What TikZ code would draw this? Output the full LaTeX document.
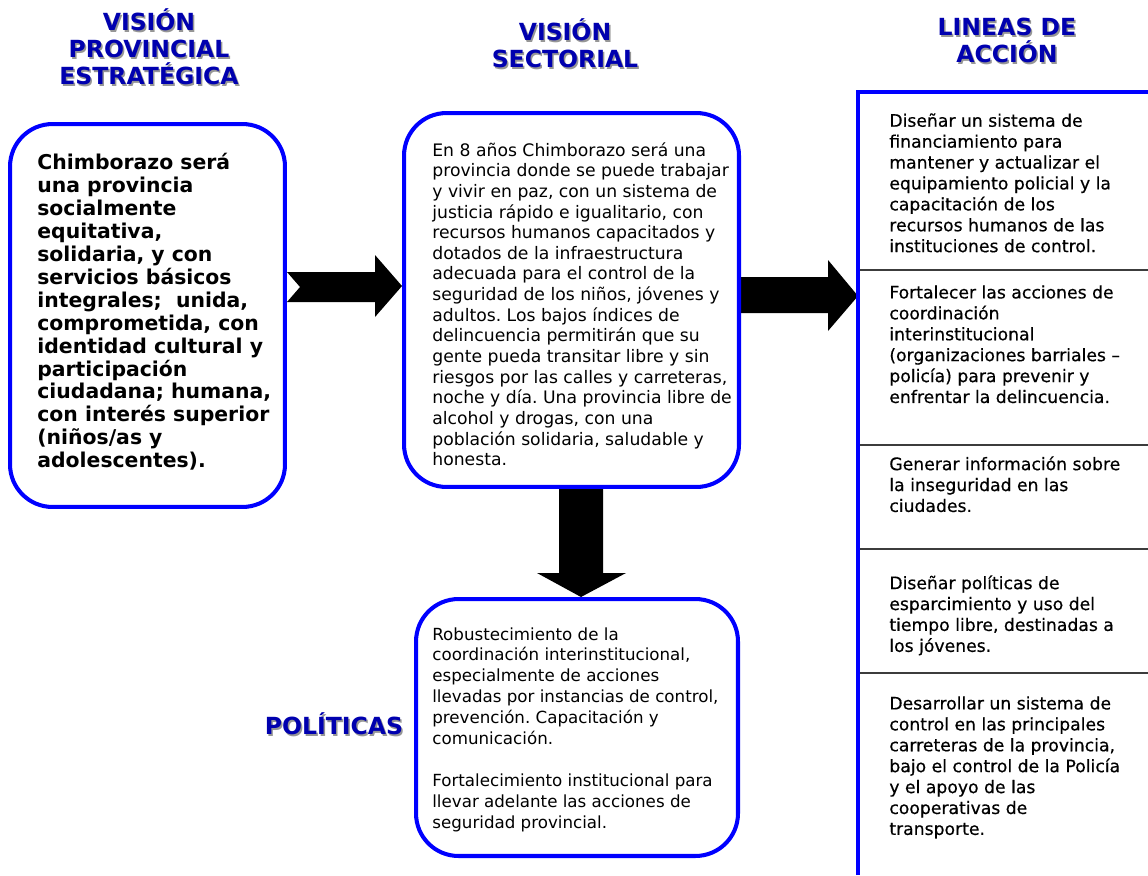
\documentclass[tikz,border=0pt]{standalone}
\usepackage{fontspec}
\setmainfont{DejaVu Sans}
\newfontfamily\medio{DejaVu Sans}[FakeBold=0.5]
\usetikzlibrary{backgrounds,calc}
\pgfdeclarelayer{edgelayer}
\pgfdeclarelayer{nodelayer}
\pgfsetlayers{edgelayer,nodelayer,main}
\definecolor{azul}{RGB}{0,0,255}
\definecolor{azultit}{RGB}{0,0,175}
\definecolor{sombra}{RGB}{150,150,150}
\definecolor{linea}{RGB}{60,60,60}
\frenchspacing
\tikzset{font=\fontsize{9.8}{11.75}\selectfont}
\tikzstyle{none}=[inner sep=0pt]
\tikzstyle{caja}=[draw=azul,line width=2.3pt,fill=white,rounded corners=0.85cm,inner sep=0pt]
\tikzstyle{texto}=[inner sep=0pt,align=left,anchor=north west]
\tikzstyle{derecha}=[texto,font=\fontsize{9.8}{11.9}\selectfont\medio]
\tikzstyle{titulo}=[inner sep=0pt,align=center,text=azultit,font=\fontsize{13.4}{15.3}\selectfont\bfseries]
\tikzstyle{sombra}=[titulo,text=sombra,xshift=0.03cm,yshift=-0.03cm]
\tikzstyle{flecha}=[fill=black]

\begin{document}
\begin{tikzpicture}[x=0.02cm,y=-0.02cm]
	\useasboundingbox (0,0) rectangle (1148,875);
	\begin{pgfonlayer}{nodelayer}
		% cajas
		\node [style=caja,minimum width=5.5cm,minimum height=7.66cm] (0) at (147.5,315.5) {};
		\node [style=caja,minimum width=6.7cm,minimum height=7.48cm] (1) at (571.5,300) {};
		\node [style=caja,minimum width=6.44cm,minimum height=5.14cm] (2) at (577,727.5) {};
		% columna derecha
		\coordinate (3) at (858,92);
		\coordinate (4) at (858,875);
		\coordinate (5) at (1148,92);
		% titulos
		\node [style=sombra] (6s) at (149,47) {VISIÓN\\PROVINCIAL\\ESTRATÉGICA};
		\node [style=titulo] (6) at (149,47) {VISIÓN\\PROVINCIAL\\ESTRATÉGICA};
		\node [style=sombra] (7s) at (565,43.5) {VISIÓN\\SECTORIAL};
		\node [style=titulo] (7) at (565,43.5) {VISIÓN\\SECTORIAL};
		\node [style=sombra] (8s) at (1007,40.5) {LINEAS DE\\ACCIÓN};
		\node [style=titulo] (8) at (1007,40.5) {LINEAS DE\\ACCIÓN};
		\node [style=sombra] (9s) at (334,724) {POLÍTICAS};
		\node [style=titulo] (9) at (334,724) {POLÍTICAS};
		% textos
		\node [style=texto,font=\fontsize{11.6}{13.05}\selectfont\bfseries] (10) at (37,153) {Chimborazo será\\una provincia\\socialmente\\equitativa,\\solidaria, y con\\servicios básicos\\integrales;\ \ unida,\\comprometida, con\\identidad cultural y\\participación\\ciudadana; humana,\\con interés superior\\(niños/as y\\adolescentes).};
		\node [style=texto] (11) at (432,142) {En 8 años Chimborazo será una\\provincia donde se puede trabajar\\y vivir en paz, con un sistema de\\justicia rápido e igualitario, con\\recursos humanos capacitados y\\dotados de la infraestructura\\adecuada para el control de la\\seguridad de los niños, jóvenes y\\adultos. Los bajos índices de\\delincuencia permitirán que su\\gente pueda transitar libre y sin\\riesgos por las calles y carreteras,\\noche y día. Una provincia libre de\\alcohol y drogas, con una\\población solidaria, saludable y\\honesta.};
		\node [style=texto,font=\fontsize{9.5}{11.9}\selectfont] (12) at (432,627) {Robustecimiento de la\\coordinación interinstitucional,\\especialmente de acciones\\llevadas por instancias de control,\\prevención. Capacitación y\\comunicación.\\[11.9pt]Fortalecimiento institucional para\\llevar adelante las acciones de\\seguridad provincial.};
		\node [style=derecha] (13) at (889,113) {Diseñar un sistema de\\financiamiento para\\mantener y actualizar el\\equipamiento policial y la\\capacitación de los\\recursos humanos de las\\instituciones de control.};
		\node [style=derecha] (14) at (889,285) {Fortalecer las acciones de\\coordinación\\interinstitucional\\(organizaciones barriales –\\policía) para prevenir y\\enfrentar la delincuencia.};
		\node [style=derecha] (15) at (889,456) {Generar información sobre\\la inseguridad en las\\ciudades.};
		\node [style=derecha] (16) at (889,575) {Diseñar políticas de\\esparcimiento y uso del\\tiempo libre, destinadas a\\los jóvenes.};
		\node [style=derecha] (17) at (889,696) {Desarrollar un sistema de\\control en las principales\\carreteras de la provincia,\\bajo el control de la Policía\\y el apoyo de las\\cooperativas de\\transporte.};
	\end{pgfonlayer}
	\begin{pgfonlayer}{edgelayer}
		% flechas
		\fill [style=flecha] (0.east |- 0,272) -- (375,272) -- (375,255) -- (1.west |- 0,286) -- (375,317) -- (375,302) -- (0.east |- 0,302) -- (300,287) -- cycle;
		\fill [style=flecha] (1.east |- 0,277) -- (828,277) -- (828,260) -- (3 |- 0,296) -- (828,331) -- (828,313) -- (1.east |- 0,313) -- cycle;
		\fill [style=flecha] (559,0 |- 1.south) -- (559,573) -- (537,573) -- (581,0 |- 2.north) -- (626,573) -- (603,573) -- (603,0 |- 1.south) -- cycle;
	\end{pgfonlayer}
	% separadores
	\foreach \y in {270,445,549,673}
		\draw [linea,line width=0.9pt] (860,\y) -- (1148,\y);
	\draw [azul,line width=2.3pt] (4) -- (3) -- (5);
\end{tikzpicture}
\end{document}
